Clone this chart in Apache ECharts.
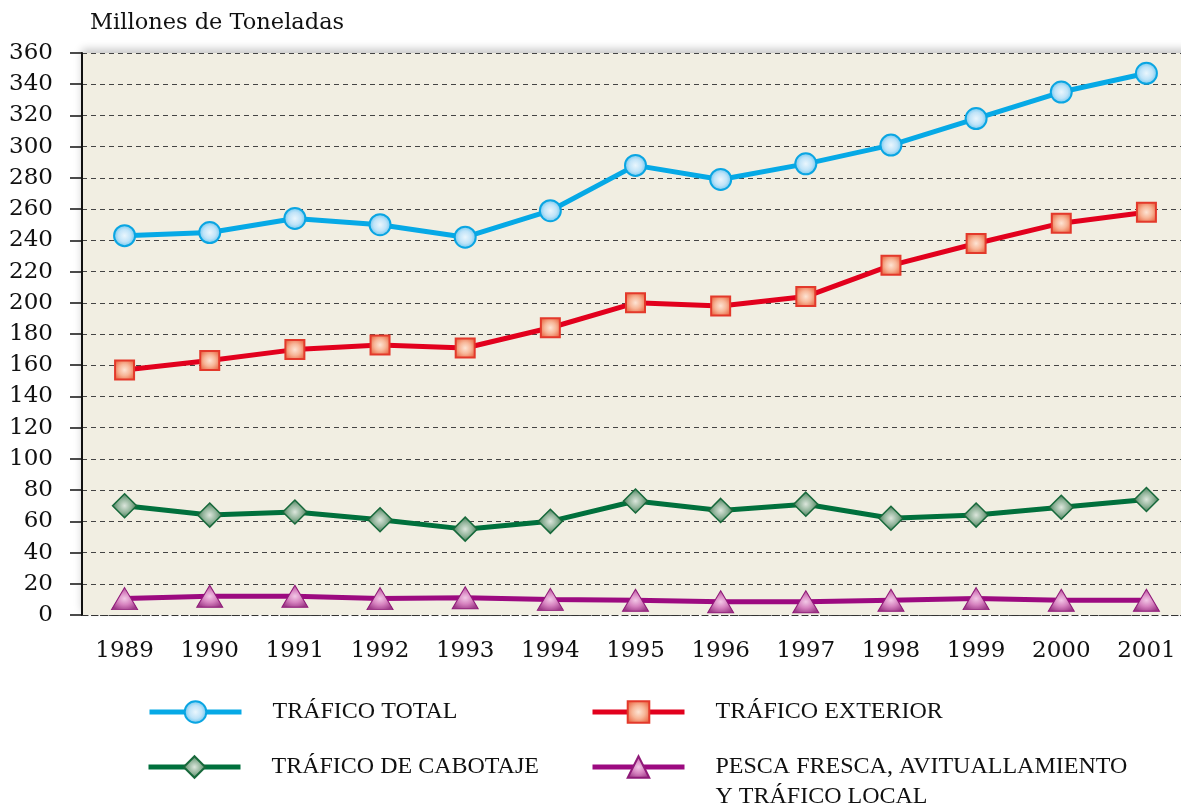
<!DOCTYPE html>
<html>
<head>
<meta charset="utf-8">
<title>Tráfico portuario</title>
<script src="https://cdn.jsdelivr.net/npm/echarts@6/dist/echarts.min.js"></script>
<style>
  html, body { margin: 0; padding: 0; background: #fff; }
  #chart { width: 1181px; height: 811px; }
</style>
</head>
<body>
<div id="chart"></div>
<script>
// años del eje horizontal
const years = ['1989', '1990', '1991', '1992', '1993', '1994', '1995', '1996', '1997', '1998', '1999', '2000', '2001'];

// millones de toneladas
const traficoTotal = [243, 245, 254, 250, 242, 259, 288, 279, 289, 301, 318, 335, 347];
const traficoExterior = [157, 163, 170, 173, 171, 184, 200, 198, 204, 224, 238, 251, 258];
const traficoCabotaje = [70, 64, 66, 61, 55, 60, 73, 67, 71, 62, 64, 69, 74];
const pescaLocal = [10.5, 12, 12, 10.5, 11, 10, 9.5, 8.5, 8.5, 9.5, 10.5, 9.5, 9.5];

const yMin = 0;
const yMax = 360;
const yStep = 20;

const serifFont = '"DejaVu Serif", "Liberation Serif", serif';
const legendFont = '"Liberation Serif", "DejaVu Serif", serif';

// relleno degradado de los marcadores
function radial(inner, mid, outer) {
  return new echarts.graphic.RadialGradient(0.5, 0.5, 0.55, [
    { offset: 0, color: inner },
    { offset: 0.5, color: mid },
    { offset: 1, color: outer }
  ]);
}

function makeLegend(name, left, top, twoLines) {
  const legend = {
    data: [name],
    left: left,
    top: top,
    padding: 0,
    itemWidth: 92,
    itemHeight: 27,
    selectedMode: false,
    lineStyle: { width: 5 },
    textStyle: {
      fontFamily: legendFont,
      fontSize: 24,
      color: '#111',
      lineHeight: twoLines ? 30 : 27,
      padding: [0, 0, 0, 26]
    }
  };
  if (twoLines) {
    // línea vacía arriba para que la primera línea quede a la altura del icono
    legend.formatter = (n) => '\u00a0\n' + n;
  }
  return legend;
}

const chart = echarts.init(document.getElementById('chart'));

const option = {
  backgroundColor: '#ffffff',
  animation: false,
  title: {
    text: 'Millones de Toneladas',
    left: 90,
    top: 12,
    padding: 0,
    textStyle: {
      fontFamily: serifFont,
      fontSize: 22.5,
      fontWeight: 'normal',
      color: '#111'
    }
  },
  legend: [
    makeLegend('TRÁFICO TOTAL', 147, 698.5),
    makeLegend('TRÁFICO EXTERIOR', 590, 698.5),
    makeLegend('TRÁFICO DE CABOTAJE', 146, 753.5),
    makeLegend('PESCA FRESCA, AVITUALLAMIENTO\nY TRÁFICO LOCAL', 590, 722, true)
  ],
  grid: {
    left: 82,
    width: 1107,
    top: 53,
    bottom: 196,
    outerBoundsMode: 'none',
    containLabel: false,
    show: true,
    borderWidth: 0,
    backgroundColor: '#f1eee2',
    shadowColor: 'rgba(0,0,0,0.22)',
    shadowBlur: 8,
    shadowOffsetY: -4
  },
  xAxis: {
    type: 'category',
    data: years,
    boundaryGap: true,
    axisLine: {
      lineStyle: { color: '#333', width: 1.2, type: [6, 4] }
    },
    axisTick: {
      alignWithLabel: true,
      length: 12,
      lineStyle: { color: '#333', width: 1.2 }
    },
    axisLabel: {
      margin: 25,
      fontFamily: serifFont,
      fontSize: 23,
      color: '#111'
    },
    splitLine: { show: false }
  },
  yAxis: {
    type: 'value',
    min: yMin,
    max: yMax,
    interval: yStep,
    axisLine: {
      show: true,
      lineStyle: { color: '#111', width: 2 }
    },
    axisTick: {
      show: true,
      length: 12,
      lineStyle: { color: '#111', width: 1.5 }
    },
    axisLabel: {
      margin: 29,
      fontFamily: serifFont,
      fontSize: 23,
      color: '#111'
    },
    splitLine: {
      show: true,
      lineStyle: { color: '#444', width: 1.2, type: [5, 4] }
    }
  },
  series: [
    {
      name: 'TRÁFICO TOTAL',
      type: 'line',
      data: traficoTotal,
      symbol: 'circle',
      symbolSize: 21,
      z: 4,
      lineStyle: { color: '#06a9e6', width: 5 },
      itemStyle: {
        color: radial('#eaf6fd', '#bfe3f8', '#4fbdec'),
        borderColor: '#0aa5e2',
        borderWidth: 2
      }
    },
    {
      name: 'TRÁFICO EXTERIOR',
      type: 'line',
      data: traficoExterior,
      symbol: 'rect',
      symbolSize: 19,
      z: 4,
      lineStyle: { color: '#e2001d', width: 5 },
      itemStyle: {
        color: radial('#fde4d4', '#f7b698', '#eb6d4a'),
        borderColor: '#e3392b',
        borderWidth: 2
      }
    },
    {
      name: 'TRÁFICO DE CABOTAJE',
      type: 'line',
      data: traficoCabotaje,
      symbol: 'diamond',
      symbolSize: [24, 24],
      z: 4,
      lineStyle: { color: '#00703c', width: 5 },
      itemStyle: {
        color: radial('#dce6dc', '#8fb298', '#2f6c46'),
        borderColor: '#17693b',
        borderWidth: 1.5
      }
    },
    {
      name: 'PESCA FRESCA, AVITUALLAMIENTO\nY TRÁFICO LOCAL',
      type: 'line',
      data: pescaLocal,
      symbol: 'triangle',
      symbolSize: [26, 22],
      z: 4,
      lineStyle: { color: '#9c0a80', width: 5 },
      itemStyle: {
        color: radial('#f2c8e6', '#d682bf', '#9e3a88'),
        borderColor: '#8f1a78',
        borderWidth: 1
      }
    }
  ]
};

chart.setOption(option);
</script>
</body>
</html>
